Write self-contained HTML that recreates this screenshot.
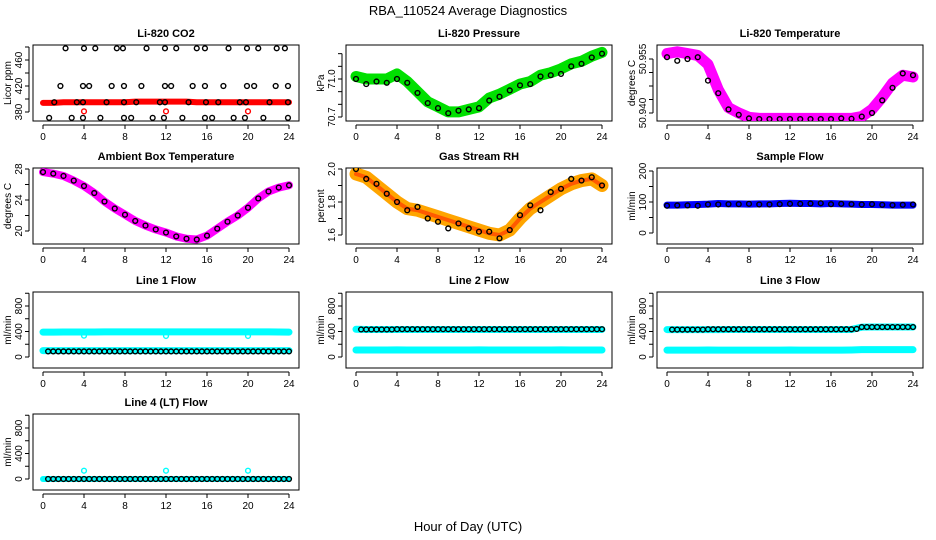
<!DOCTYPE html>
<html><head><meta charset="utf-8">
<style>
body{margin:0;background:#fff;}
svg{display:block;font-family:"Liberation Sans",Arial,sans-serif;}
</style></head>
<body>
<svg id="chart" width="936" height="540" viewBox="0 0 936 540" xmlns="http://www.w3.org/2000/svg">
<rect x="0" y="0" width="936" height="540" fill="#fff"/>
<text x="468" y="15" text-anchor="middle" font-size="13">RBA_110524  Average Diagnostics</text>
<text x="468" y="531" text-anchor="middle" font-size="13">Hour of Day (UTC)</text>
</svg>
<script>
const H25 = [0,1,2,3,4,5,6,7,8,9,10,11,12,13,14,15,16,17,18,19,20,21,22,23,24];
const H48 = [0.5,1,1.5,2,2.5,3,3.5,4,4.5,5,5.5,6,6.5,7,7.5,8,8.5,9,9.5,10,10.5,11,11.5,12,12.5,13,13.5,14,14.5,15,15.5,16,16.5,17,17.5,18,18.5,19,19.5,20,20.5,21,21.5,22,22.5,23,23.5,24];
const xTicks = [0,4,8,12,16,20,24];

// CO2
const co2BandV = [394,394,395,395,395,395,395,395,395,396,396,396,396,396,396,395,395,395,395,395,395,395,395,395,395];
const co2PtH = [2.2,4,5.1,7.2,7.8,10.1,11.9,13,15,15.8,18.1,19.9,21,22.8,23.6, 1.7,3.9,4.5,6.7,7.9,9.6,11.9,12.5,14.6,15.8,17.6,19.9,20.6,22.7,23.9, 1.1,3.3,3.9,6.2,7.9,9.1,11.4,11.9,14.2,15.9,17.1,19.2,19.8,22.1,23.9, 0.6,2.8,3.9,5.6,7.9,8.6,10.7,11.8,13.6,15.8,16.5,18.6,19.7,21.5,23.9];
const co2PtV = [478,478,478,478,478,478,478,478,478,478,478,478,478,478,478, 420,420,420,420,420,420,420,420,420,420,420,420,420,420,420, 395,395,395,395,395,395,395,395,395,395,395,395,395,395,395, 371,371,371,371,371,371,371,371,371,371,371,371,371,371,371];
const co2OutH = [4,12,20];
const co2OutV = [381,381,381];
// Pressure
const presBandV = [71.02,71.0,71.0,71.0,71.04,70.98,70.9,70.82,70.78,70.74,70.74,70.76,70.78,70.85,70.88,70.92,70.96,70.98,71.03,71.05,71.08,71.12,71.14,71.18,71.21];
const presPtV = [71.0,70.96,70.98,70.97,71.0,70.97,70.89,70.81,70.77,70.73,70.75,70.76,70.77,70.83,70.86,70.91,70.95,70.96,71.02,71.03,71.04,71.1,71.12,71.17,71.2];
// Li-820 temperature
const tempBandV = [50.9565,50.957,50.9565,50.956,50.9535,50.9465,50.9415,50.940,50.9388,50.9385,50.9385,50.9385,50.9385,50.9385,50.9385,50.9385,50.9385,50.9385,50.9385,50.939,50.941,50.9444,50.9483,50.9505,50.950];
const tempPtV = [50.9555,50.9545,50.955,50.9555,50.949,50.9455,50.941,50.9395,50.9385,50.9383,50.9383,50.9383,50.9383,50.9383,50.9383,50.9383,50.9383,50.9385,50.9384,50.939,50.940,50.9435,50.947,50.951,50.9505];
// Ambient
const ambV = [27.6,27.4,27.1,26.5,25.8,24.9,23.8,22.9,22.1,21.3,20.7,20.2,19.8,19.3,19.0,18.9,19.4,20.3,21.2,22.0,23.0,24.2,25.1,25.6,25.9];
// RH
const rhBandV = [1.97,1.95,1.9,1.85,1.8,1.76,1.75,1.73,1.71,1.69,1.67,1.65,1.63,1.61,1.6,1.63,1.7,1.76,1.8,1.84,1.88,1.91,1.93,1.94,1.9];
const rhPtV = [2.0,1.94,1.91,1.85,1.8,1.75,1.77,1.7,1.68,1.64,1.67,1.64,1.62,1.62,1.58,1.63,1.72,1.78,1.75,1.86,1.88,1.94,1.93,1.95,1.9];
// Sample flow
const sfBandV = [90,90,91,92,93,95,94,94,93,94,94,95,96,95,95,94,95,94,93,92,92,91,90,90,90];
const sfPtV = [88,89,89,88,92,92,93,93,94,92,92,93,94,94,95,96,93,94,93,92,93,91,90,91,92];
// Line flows
const l1TopV = [390,390,392,392,392,392,394,394,394,394,394,394,394,394,394,394,394,394,394,394,394,394,394,392,390];
const l1BotV = [100,100,100,100,100,100,100,100,100,100,100,100,100,100,100,100,100,100,100,100,100,100,100,100,100];
const l1DipH = [4,12,20];
const l1DipV = [335,330,330];
const l1PtV = [88,88,88,88,88,88,88,88,88,88,88,88,88,88,88,88,88,88,88,88,88,88,88,88,88,88,88,88,88,88,88,88,88,88,88,88,88,88,88,88,88,88,88,88,88,88,88,88];
const l2TopV = [435,432,432,432,432,432,432,432,432,432,432,432,432,432,432,432,432,432,432,432,432,432,432,432,432];
const l2BotV = [110,110,110,110,112,110,110,110,110,110,110,110,112,110,110,110,110,110,110,110,112,110,110,110,110];
const l2PtV = [432,432,432,432,432,432,432,436,436,436,436,436,436,436,436,436,436,436,436,436,436,436,436,436,436,436,436,436,436,436,436,436,436,436,436,436,436,436,436,436,436,436,436,436,436,436,436,436];
const l3TopV = [430,430,430,430,430,430,432,432,432,432,432,432,432,432,432,432,432,432,432,468,470,470,470,470,470];
const l3BotV = [108,108,108,108,110,108,108,108,108,108,108,108,110,108,108,108,108,108,110,115,115,115,115,115,115];
const l3PtV = [430,430,430,430,430,430,430,435,435,435,435,435,435,435,435,435,435,435,435,435,435,435,435,435,435,435,435,435,435,435,435,435,435,435,435,435,440,470,470,470,470,470,470,470,470,470,470,470];
const l4BandV = [0,0,0,0,0,0,0,0,0,0,0,0,0,0,0,0,0,0,0,0,0,0,0,0,0];
const l4SpikeH = [4,12,20];
const l4SpikeV = [130,130,130];
const l4PtV = [0,0,0,0,0,0,0,0,0,0,0,0,0,0,0,0,0,0,0,0,0,0,0,0,0,0,0,0,0,0,0,0,0,0,0,0,0,0,0,0,0,0,0,0,0,0,0,0];

const svg = document.getElementById('chart');
const NS = 'http://www.w3.org/2000/svg';
function mk(tag, attrs, parent){const e=document.createElementNS(NS,tag);for(const k in attrs)e.setAttribute(k,attrs[k]);(parent||svg).appendChild(e);return e;}

const colX0 = [43,356,667];
const rowTop = [45,168,292,414];
const BOXH = 76, PXH = 246/24;

function panel(col,row,name,title,ylab,ref,ticks,labels){
  const x0 = colX0[col], top = rowTop[row];
  const g = mk('g',{});
  
  
  const xs = h => x0 + h*PXH;
  const ys = v => top + ref[1] + (v-ref[0])/(ref[2]-ref[0])*(ref[3]-ref[1]);
  const box = mk('rect',{x:x0-10,y:top,width:266,height:BOXH,fill:'none',stroke:'#000','stroke-width':1},g);
  
  
  const t = mk('text',{x:x0+123,y:top-8,'text-anchor':'middle','font-size':11,'font-weight':'bold'},g);
  t.textContent = title;
  
  
  const yl = mk('text',{transform:`translate(${x0-32},${top+BOXH/2}) rotate(-90)`,'text-anchor':'middle','font-size':10},g);
  yl.textContent = ylab;
  
  
  // x axis
  const xa = mk('g',{},g);
  
  
  const by = top+BOXH;
  mk('line',{x1:xs(0),x2:xs(24),y1:by+4,y2:by+4,stroke:'#000'},xa);
  xTicks.forEach(h=>{
    mk('line',{x1:xs(h),x2:xs(h),y1:by+4,y2:by+8,stroke:'#000'},xa);
    const tl = mk('text',{x:xs(h),y:by+19,'text-anchor':'middle','font-size':10},xa);
    tl.textContent = h;
  });
  // y axis
  const ya = mk('g',{},g);
  
  
  const ax = x0-14;
  mk('line',{x1:ax,x2:ax,y1:ys(ticks[0]),y2:ys(ticks[ticks.length-1]),stroke:'#000'},ya);
  ticks.forEach((v,i)=>{
    mk('line',{x1:ax-4,x2:ax,y1:ys(v),y2:ys(v),stroke:'#000'},ya);
    if(labels[i]){
      const tl = mk('text',{transform:`translate(${ax-7},${ys(v)}) rotate(-90)`,'text-anchor':'middle','font-size':10},ya);
      tl.textContent = labels[i];
    }
  });
  const clipId = 'c'+name;
  const cp = mk('clipPath',{id:clipId},g);
  mk('rect',{x:x0-10,y:top,width:266,height:BOXH},cp);
  const plot = mk('g',{'clip-path':`url(#${clipId})`},g);
  return {
    band(hs,vs,color,w,nm){
      const p = mk('polyline',{points:hs.map((h,i)=>xs(h)+','+ys(vs[i])).join(' '),fill:'none',stroke:color,'stroke-width':w,'stroke-linejoin':'round','stroke-linecap':'round'},plot);
      
      
    },
    pts(hs,vs,color,nm,r){
      const pg = mk('g',{},plot);
      
      
      hs.forEach((h,i)=>{mk('circle',{cx:xs(h),cy:ys(vs[i]),r:r||2.4,fill:'none',stroke:color,'stroke-width':1.4},pg);});
    }
  };
}

let p;
p = panel(0,0,'co2-panel','Li-820 CO2','Licor ppm',[380,67,460,15],[380,400,420,440,460,480],['380','','420','','460','']);
p.band(H25,co2BandV,'#ff0000',6,'co2-band');
p.pts(co2OutH,co2OutV,'#ff0000','co2-outliers');
p.pts(co2PtH,co2PtV,'#000','co2-points');

p = panel(1,0,'pressure-panel','Li-820 Pressure','kPa',[70.7,72,71.0,34],[70.7,70.8,70.9,71.0,71.1,71.2],['70.7','','','71.0','','']);
p.band(H25,presBandV,'#00e000',11,'pressure-band');
p.pts(H25,presPtV,'#000','pressure-points');

p = panel(2,0,'li820-temp-panel','Li-820 Temperature','degrees C',[50.940,68,50.955,14],[50.940,50.94375,50.9475,50.95125,50.955],['50.940','','','','50.955']);
p.band(H25,tempBandV,'#ff00ff',11,'li820-temp-band');
p.pts(H25,tempPtV,'#000','li820-temp-points');

p = panel(0,1,'ambient-panel','Ambient Box Temperature','degrees C',[20,63,28,1],[20,22,24,26,28],['20','','24','','28']);
p.band(H25,ambV,'#ff00ff',8,'ambient-band');
p.pts(H25,ambV,'#000','ambient-points');

p = panel(1,1,'rh-panel','Gas Stream RH','percent',[1.6,67,2.0,1],[1.6,1.7,1.8,1.9,2.0],['1.6','','1.8','','2.0']);
p.band(H25,rhBandV,'#ffa500',13,'rh-band');
p.band(H25,rhBandV,'#ff5a00',4,'rh-band-core');
p.pts(H25,rhPtV,'#000','rh-points');

p = panel(2,1,'sample-flow-panel','Sample Flow','ml/min',[0,65,200,3],[0,50,100,150,200],['0','','100','','200']);
p.band(H25,sfBandV,'#0000ff',7,'sample-flow-band');
p.pts(H25,sfPtV,'#000','sample-flow-points');

const fRef=[0,65,800,14], fT=[0,200,400,600,800,1000], fL=['0','','400','','800',''];
p = panel(0,2,'line1-panel','Line 1 Flow','ml/min',fRef,fT,fL);
p.band(H25,l1TopV,'#00ffff',7,'line1-top-band');
p.band(H25,l1BotV,'#00ffff',7,'line1-bottom-band');
p.pts(l1DipH,l1DipV,'#00ffff','line1-dips');
p.pts(H48,l1PtV,'#000','line1-points');

p = panel(1,2,'line2-panel','Line 2 Flow','ml/min',fRef,fT,fL);
p.band(H25,l2TopV,'#00ffff',7,'line2-top-band');
p.band(H25,l2BotV,'#00ffff',7,'line2-bottom-band');
p.pts(H48,l2PtV,'#000','line2-points');

p = panel(2,2,'line3-panel','Line 3 Flow','ml/min',fRef,fT,fL);
p.band(H25,l3TopV,'#00ffff',7,'line3-top-band');
p.band(H25,l3BotV,'#00ffff',7,'line3-bottom-band');
p.pts(H48,l3PtV,'#000','line3-points');

p = panel(0,3,'line4-panel','Line 4 (LT) Flow','ml/min',fRef,fT,fL);
p.band(H25,l4BandV,'#00ffff',6,'line4-band');
p.pts(l4SpikeH,l4SpikeV,'#00ffff','line4-spikes');
p.pts(H48,l4PtV,'#000','line4-points');
</script>
</body></html>
